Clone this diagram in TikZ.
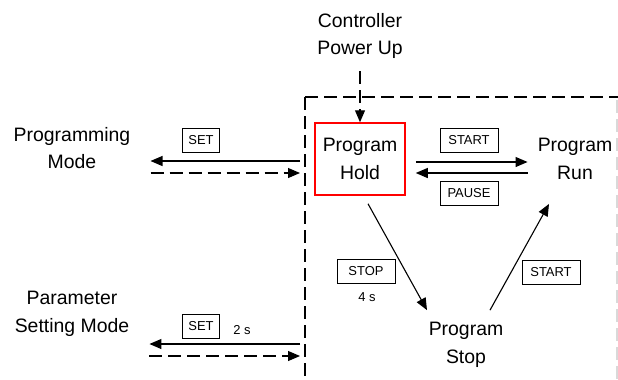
\documentclass[tikz,border=0pt]{standalone}
\usepackage{fontspec}
\setmainfont{Liberation Sans}
\usetikzlibrary{arrows.meta}

\begin{document}
\begin{tikzpicture}[x=1bp,y=-1bp]
% y runs downwards, as in the pixel grid of the reference

% style
\tikzset{
    every node/.style={inner sep=0pt, align=center},
    bigText/.style={font=\fontsize{19.5}{28}\selectfont},
    smallText/.style={font=\fontsize{13}{15}\selectfont},
    keyBox/.style={smallText, draw, line width=1bp, minimum width=58bp, minimum height=24bp},
    stateBox/.style={bigText, draw=red, line width=1.5bp, minimum width=90bp, minimum height=72bp},
    baseLine/.style={draw, line width=1.1bp},
    arrowLine/.style={baseLine, -{Triangle[length=12bp, width=10bp]}},
    dashLine/.style={arrowLine, dash pattern=on 13bp off 6bp},
    frameLine/.style={baseLine, dash pattern=on 13bp off 6bp}
}

\useasboundingbox (0,0) rectangle (618,379);

% frame round the program states
\coordinate (frameTL) at (305,97);
\draw[frameLine] (frameTL) -- (305,385);
\draw[frameLine] (frameTL) -- (618,97);
\draw[frameLine, draw=black!15] (617,100) -- (617,385);

% states
\node[bigText] (ctrl) at (360,36) {Controller\\Power Up};
\node[stateBox] (hold) at (360,159) {Program\\Hold};
\node[bigText] (run) at (575,159) {Program\\Run};
\node[bigText] (stop) at (466,345) {Program\\Stop};
\node[bigText] (prog) at (72,148) {Programming\\Mode};
\node[bigText] (param) at (72,314) {Parameter\\Setting Mode};

% keys
\node[keyBox] (startKey) at (469,140) {START};
\node[keyBox] (pauseKey) at (469,193) {PAUSE};
\node[keyBox] (stopKey) at (366,271) {STOP};
\node[smallText] (stopTime) at (367,297) {4 s};
\node[keyBox] (runKey) at (551,272) {START};
\node[keyBox, minimum width=37bp] (setKey) at (201,140) {SET};
\node[keyBox, minimum width=37bp] (setKeyB) at (201,326) {SET};
\node[smallText] (setTime) at (242,330) {2 s};

% free ends on the frame
\coordinate (progA) at (300,161);
\coordinate (progB) at (300,173);
\coordinate (paramA) at (300,344);
\coordinate (paramB) at (300,356);

% arrows
\draw[dashLine] ([yshift=-12bp]ctrl.south -| hold.north) -- (hold.north);
\draw[arrowLine] ([xshift=10bp, yshift=-3bp]hold.east) -- ([xshift=-10bp, yshift=-3bp]run.west);
\draw[arrowLine] ([xshift=-10bp, yshift=-14bp]run.west) -- ([xshift=10bp, yshift=-14bp]hold.east);
\draw[arrowLine] ([xshift=8bp, yshift=-8bp]hold.south) -- ([xshift=-39bp, yshift=12bp]stop.north);
\draw[arrowLine] ([xshift=24bp, yshift=12bp]stop.north) -- ([xshift=-26bp, yshift=-24bp]run.south);
\draw[arrowLine] (progA) -- ([xshift=20bp]progA -| prog.east);
\draw[dashLine] ([xshift=20bp]progB -| prog.east) -- (progB);
\draw[arrowLine] (paramA) -- ([xshift=20bp]paramA -| param.east);
\draw[dashLine] ([xshift=20bp]paramB -| param.east) -- (paramB);

\end{tikzpicture}
\end{document}
